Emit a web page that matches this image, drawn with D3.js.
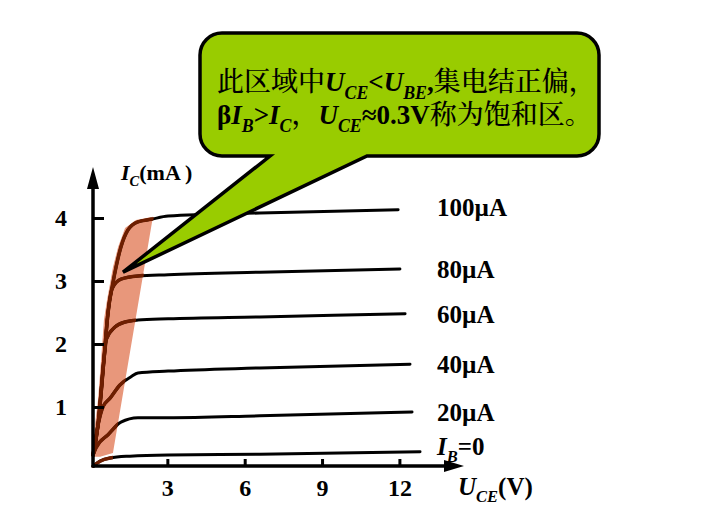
<!DOCTYPE html>
<html><head><meta charset="utf-8">
<script src="https://cdn.jsdelivr.net/npm/d3@7"></script>
<style>body{margin:0;background:#fff}svg{display:block}</style>
</head><body>
<svg id="c" width="702" height="512"></svg>
<script>
// ---- data (U_CE in V, I_C in mA) ----
const xTicks = [3, 6, 9, 12];
const yTicks = [1, 2, 3, 4];
const seriesLabels = ["IB=0", "20µA", "40µA", "60µA", "80µA", "100µA"];
const curveIB0 = [[0.12,0.06],[0.39,0.14],[0.78,0.19],[1.55,0.22],[3.03,0.24],[6.59,0.25],[12.8,0.29]];
const curve20  = [[0.12,0.24],[0.23,0.35],[0.70,0.56],[1.20,0.76],[1.86,0.83],[3.03,0.83],[6.59,0.86],[12.49,0.92]];
const curve40  = [[0.12,0.24],[0.31,0.71],[0.50,1.00],[0.78,1.14],[1.16,1.35],[1.59,1.48],[1.86,1.54],[3.03,1.57],[6.59,1.62],[12.41,1.68]];
const curve60  = [[0.12,0.24],[0.31,0.71],[0.54,1.75],[0.64,2.08],[0.97,2.27],[1.36,2.35],[1.86,2.38],[3.03,2.40],[6.59,2.43],[12.22,2.48]];
const curve80  = [[0.12,0.24],[0.31,0.71],[0.54,1.75],[0.70,2.50],[0.86,2.88],[1.20,3.03],[1.86,3.08],[3.03,3.10],[6.59,3.14],[12.02,3.19]];
const curve100 = [[0.12,0.24],[0.31,0.71],[0.54,1.75],[0.70,2.50],[0.89,2.97],[1.01,3.22],[1.20,3.54],[1.47,3.81],[1.86,3.94],[2.37,3.98],[3.03,4.03],[6.59,4.08],[11.95,4.13]];
const saturationRegion = [[0.04,0.21],[0.19,0.71],[0.31,1.11],[0.43,1.75],[0.54,2.38],[0.66,2.70],[0.78,2.97],[0.89,3.22],[1.09,3.54],[1.36,3.84],[1.78,3.97],[2.44,4.02],[0.89,0.27],[0.39,0.21]];
const calloutTip = [1.28, 3.14];
const series = [curveIB0, curve20, curve40, curve60, curve80, curve100];

// ---- scales ----
const x = d3.scaleLinear().domain([0, 12]).range([90, 399.4]);
const y = d3.scaleLinear().domain([0, 4]).range([470, 218]);
const svg = d3.select("#c");
const SERIF = "'Liberation Serif','Times New Roman',serif";
const CJK = "'Noto Serif CJK SC','Noto Sans CJK SC',serif";

const line = d3.line().x(d => x(d[0])).y(d => y(d[1])).curve(d3.curveMonotoneX);

// shaded saturation region
svg.append("path")
  .attr("d", "M" + saturationRegion.map(d => [x(d[0]), y(d[1])]).join("L") + "Z")
  .attr("fill", "#E8977B");

// black curves
svg.append("g").selectAll("path").data(series).join("path")
  .attr("d", line).attr("fill", "none").attr("stroke", "#000")
  .attr("stroke-width", 3).attr("stroke-linecap", "round").attr("stroke-linejoin", "round");

// brown curve parts inside saturation region
const tr = saturationRegion[11], br = saturationRegion[12];
svg.append("clipPath").attr("id", "satclip").append("path")
  .attr("d", `M60,200L${x(tr[0]) + 1},200L${x(tr[0]) + 1},${y(tr[1])}L${x(br[0])},${y(br[1])}L${x(br[0])},480L60,480Z`);
svg.append("g").attr("clip-path", "url(#satclip)")
  .selectAll("path").data(series).join("path")
  .attr("d", line).attr("fill", "none").attr("stroke", "#6E1E00")
  .attr("stroke-width", 3.5).attr("stroke-linecap", "round").attr("stroke-linejoin", "round");

// ---- axes ----
const x0 = 93, yAxisPos = 466;
const xAxis = d3.axisBottom(x).tickValues(xTicks).tickFormat(d3.format("d")).tickSizeInner(-7).tickSizeOuter(0).tickPadding(13);
const gx = svg.append("g").attr("transform", `translate(0,${yAxisPos})`).call(xAxis);
gx.select(".domain").remove();
gx.selectAll(".tick line").attr("stroke", "#000").attr("stroke-width", 3);
gx.selectAll(".tick text").attr("font-family", SERIF).attr("font-weight", "bold").attr("font-size", 24).attr("fill", "#000");

const yAxis = d3.axisLeft(y).tickValues(yTicks).tickFormat(d3.format("d")).tickSizeInner(-11).tickSizeOuter(0).tickPadding(26);
const gy = svg.append("g").attr("transform", `translate(${x0},0)`).call(yAxis);
gy.select(".domain").remove();
gy.selectAll(".tick line").attr("stroke", "#000").attr("stroke-width", 3);
gy.selectAll(".tick text").attr("font-family", SERIF).attr("font-weight", "bold").attr("font-size", 24).attr("fill", "#000");

svg.append("line").attr("x1", x0).attr("y1", yAxisPos).attr("x2", 448).attr("y2", yAxisPos).attr("stroke", "#000").attr("stroke-width", 3.5);
svg.append("path").attr("d", `M464,${yAxisPos}L444,${yAxisPos - 6}L444,${yAxisPos + 6}Z`).attr("fill", "#000");
svg.append("line").attr("x1", x0).attr("y1", yAxisPos + 1.5).attr("x2", x0).attr("y2", 185).attr("stroke", "#000").attr("stroke-width", 3.5);
svg.append("path").attr("d", `M${x0},167L${x0 - 6},189L${x0 + 6},189Z`).attr("fill", "#000");

// ---- rich text helper (segments; {br:lineHeight} starts a new line) ----
function rich(parent, px, py, size, segs) {
  const t = parent.append("text").attr("x", px).attr("y", py).attr("font-size", size).attr("fill", "#000")
    .attr("font-family", SERIF).attr("font-weight", "bold");
  let shift = 0, pendingBreak = 0;
  segs.forEach(s => {
    if (s.br) { pendingBreak = s.br; return; }
    const sp = t.append("tspan").text(s.t);
    const sub = s.k.includes("s");
    const target = sub ? size * 0.28 : 0;
    if (pendingBreak) {
      sp.attr("x", px).attr("dy", pendingBreak + target - shift);
      shift = target; pendingBreak = 0;
    } else if (target !== shift) { sp.attr("dy", target - shift); shift = target; }
    if (sub) sp.attr("font-size", size * 0.66);
    if (s.k.includes("i")) sp.attr("font-style", "italic");
    if (s.k.includes("c")) sp.attr("font-family", CJK).attr("font-weight", 500);
  });
  return t;
}

// axis titles
rich(svg, 121, 180, 22, [{t:"I",k:"i"},{t:"C",k:"is"},{t:"(mA )",k:""}]);
rich(svg, 458, 495, 25, [{t:"U",k:"i"},{t:"CE",k:"is"},{t:"(V)",k:""}]);

// curve labels
const labelSegs = {
  "IB=0": [{t:"I",k:"i"},{t:"B",k:"is"},{t:"=0",k:""}]
};
series.forEach((s, i) => {
  const last = s[s.length - 1];
  const name = seriesLabels[i];
  const segs = labelSegs[name] || [{t:name,k:""}];
  const dyOff = i === 0 ? 3 : (i === 5 ? 6 : 9);
  rich(svg, 437, y(last[1]) + dyOff, 25, segs);
});

// ---- callout ----
const L = 200, R = 599, T = 33, B = 156, r = 22;
const tip = [x(calloutTip[0]), y(calloutTip[1])];
const bubble = `M${L + r},${T}H${R - r}A${r},${r} 0 0 1 ${R},${T + r}V${B - r}A${r},${r} 0 0 1 ${R - r},${B}` +
  `H367L${tip[0]},${tip[1]}L270,${B}H${L + r}A${r},${r} 0 0 1 ${L},${B - r}V${T + r}A${r},${r} 0 0 1 ${L + r},${T}Z`;
svg.append("path").attr("d", bubble).attr("fill", "#99CC00").attr("stroke", "#000")
  .attr("stroke-width", 3.5).attr("stroke-linejoin", "miter");

rich(svg, 217, 91, 27, [
  {t:"此区域中",k:"c"},{t:"U",k:"i"},{t:"CE",k:"is"},{t:"<",k:""},{t:"U",k:"i"},{t:"BE",k:"is"},{t:",",k:""},{t:"集电结正偏，",k:"c"},
  {br:33},
  {t:"β",k:""},{t:"I",k:"i"},{t:"B",k:"is"},{t:">",k:""},{t:"I",k:"i"},{t:"C",k:"is"},{t:"，",k:"c"},
  {t:"U",k:"i"},{t:"CE",k:"is"},{t:"≈0.3V",k:""},{t:"称为饱和区。",k:"c"}
]);
</script>
</body></html>
